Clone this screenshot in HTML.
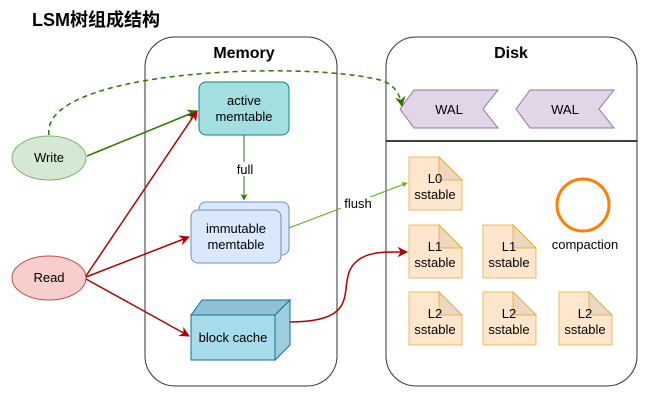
<!DOCTYPE html>
<html><head><meta charset="utf-8"><style>
body{margin:0;background:#fff;}
svg text{font-family:"Liberation Sans","Noto Sans CJK SC",sans-serif;}
</style></head><body>
<svg width="659" height="403" viewBox="0 0 659 403" xmlns="http://www.w3.org/2000/svg">
<defs>
<marker id="ag" viewBox="0 0 10 10" refX="9" refY="5" markerWidth="7" markerHeight="7" orient="auto"><path d="M0,0 L10,5 L0,10 L3,5 z" fill="#2d7600"/></marker>
<marker id="ar" viewBox="0 0 10 10" refX="9" refY="5" markerWidth="7" markerHeight="7" orient="auto"><path d="M0,0 L10,5 L0,10 L3,5 z" fill="#b20000"/></marker>
<marker id="ag2" viewBox="0 0 10 10" refX="9" refY="5" markerWidth="6" markerHeight="6" orient="auto"><path d="M0,0 L10,5 L0,10 L3,5 z" fill="#60a917"/></marker>
</defs>
<text x="32" y="26" font-size="18" font-weight="bold" fill="#000">LSM树组成结构</text>
<rect x="145" y="37" width="192" height="349" rx="30" fill="#fff" stroke="#333" stroke-width="1"/>
<text x="244" y="58" font-size="16" font-weight="bold" text-anchor="middle">Memory</text>
<rect x="386" y="37" width="251" height="349" rx="30" fill="#fff" stroke="#333" stroke-width="1"/>
<text x="511" y="58" font-size="16" font-weight="bold" text-anchor="middle">Disk</text>
<line x1="386" y1="141" x2="637" y2="141" stroke="#000" stroke-width="1.5"/>
<path d="M400,109 L414,90 L498,90 L483,109 L498,128 L414,128 z" fill="#e1d5e7" stroke="#9673a6"/>
<text x="449" y="114" font-size="13" text-anchor="middle">WAL</text>
<path d="M516,109 L530,90 L614,90 L599,109 L614,128 L530,128 z" fill="#e1d5e7" stroke="#9673a6"/>
<text x="565" y="114" font-size="13" text-anchor="middle">WAL</text>
<ellipse cx="49" cy="158" rx="37" ry="22" fill="#d5e8d4" stroke="#82b366"/>
<text x="49" y="162" font-size="13" text-anchor="middle">Write</text>
<ellipse cx="49" cy="278" rx="37" ry="22" fill="#f8cecc" stroke="#b85450"/>
<text x="49" y="282" font-size="13" text-anchor="middle">Read</text>
<rect x="199" y="82" width="90" height="53" rx="7" fill="#a3dfe1" stroke="#0e8088"/>
<text x="244" y="105" font-size="13" text-anchor="middle">active</text>
<text x="244" y="121" font-size="13" text-anchor="middle">memtable</text>
<rect x="199" y="202" width="90" height="53" rx="7" fill="#dae8fc" stroke="#6c8ebf"/>
<rect x="191" y="210" width="90" height="53" rx="7" fill="#dae8fc" stroke="#6c8ebf"/>
<text x="236" y="233" font-size="13" text-anchor="middle">immutable</text>
<text x="236" y="249" font-size="13" text-anchor="middle">memtable</text>
<path d="M191,315 L202,300 L290,300 L275,315 z" fill="#8fc0d3" stroke="#10739e"/>
<path d="M275,315 L290,300 L290,345 L275,360 z" fill="#9dcfe0" stroke="#10739e"/>
<rect x="191" y="315" width="84" height="45" fill="#a6dbea" stroke="#10739e"/>
<text x="233" y="342" font-size="13" text-anchor="middle">block cache</text>
<g font-size="13" text-anchor="middle">
<g transform="translate(409,157)"><path d="M0,0 L30,0 L53,23 L53,53 L0,53 z" fill="#ffe6cc" stroke="#d79b00" stroke-opacity="0.6"/><path d="M30,0 L30,23 L53,23 z" fill="#eed7c0" stroke="#d79b00" stroke-opacity="0.6"/><text x="26" y="26">L0</text><text x="26" y="42">sstable</text></g>
<g transform="translate(409,225)"><path d="M0,0 L30,0 L53,23 L53,53 L0,53 z" fill="#ffe6cc" stroke="#d79b00" stroke-opacity="0.6"/><path d="M30,0 L30,23 L53,23 z" fill="#eed7c0" stroke="#d79b00" stroke-opacity="0.6"/><text x="26" y="26">L1</text><text x="26" y="42">sstable</text></g>
<g transform="translate(483,225)"><path d="M0,0 L30,0 L53,23 L53,53 L0,53 z" fill="#ffe6cc" stroke="#d79b00" stroke-opacity="0.6"/><path d="M30,0 L30,23 L53,23 z" fill="#eed7c0" stroke="#d79b00" stroke-opacity="0.6"/><text x="26" y="26">L1</text><text x="26" y="42">sstable</text></g>
<g transform="translate(409,292)"><path d="M0,0 L30,0 L53,23 L53,53 L0,53 z" fill="#ffe6cc" stroke="#d79b00" stroke-opacity="0.6"/><path d="M30,0 L30,23 L53,23 z" fill="#eed7c0" stroke="#d79b00" stroke-opacity="0.6"/><text x="26" y="26">L2</text><text x="26" y="42">sstable</text></g>
<g transform="translate(483,292)"><path d="M0,0 L30,0 L53,23 L53,53 L0,53 z" fill="#ffe6cc" stroke="#d79b00" stroke-opacity="0.6"/><path d="M30,0 L30,23 L53,23 z" fill="#eed7c0" stroke="#d79b00" stroke-opacity="0.6"/><text x="26" y="26">L2</text><text x="26" y="42">sstable</text></g>
<g transform="translate(559,292)"><path d="M0,0 L30,0 L53,23 L53,53 L0,53 z" fill="#ffe6cc" stroke="#d79b00" stroke-opacity="0.6"/><path d="M30,0 L30,23 L53,23 z" fill="#eed7c0" stroke="#d79b00" stroke-opacity="0.6"/><text x="26" y="26">L2</text><text x="26" y="42">sstable</text></g>
</g>
<circle cx="583" cy="205" r="26" fill="none" stroke="#ff8000" stroke-width="3"/>
<text x="585" y="249" font-size="13" text-anchor="middle">compaction</text>
<path d="M49,135 C40,70 300,60 380,80 C395,84 400,95 402,106" fill="none" stroke="#2d7600" stroke-width="1.5" stroke-dasharray="5,4" marker-end="url(#ag)"/>
<line x1="87" y1="156" x2="197" y2="111" stroke="#2d7600" stroke-width="1.5" marker-end="url(#ag)"/>
<line x1="244" y1="135" x2="244" y2="200" stroke="#2d7600" stroke-width="1" marker-end="url(#ag)"/>
<rect x="234" y="162" width="22" height="14" fill="#fff"/>
<text x="245" y="174" font-size="13" text-anchor="middle">full</text>
<line x1="289" y1="228" x2="407" y2="183" stroke="#60a917" stroke-width="1" marker-end="url(#ag2)"/>
<rect x="341" y="197" width="34" height="14" fill="#fff"/>
<text x="358" y="208" font-size="13" text-anchor="middle">flush</text>
<line x1="86" y1="276" x2="197" y2="111" stroke="#b20000" stroke-width="1.5" marker-end="url(#ar)"/>
<line x1="86" y1="277" x2="189" y2="237" stroke="#b20000" stroke-width="1.5" marker-end="url(#ar)"/>
<line x1="86" y1="279" x2="189" y2="336" stroke="#b20000" stroke-width="1.5" marker-end="url(#ar)"/>
<path d="M290,322 C360,322 340,290 350,270 C360,250 385,252 407,252" fill="none" stroke="#b20000" stroke-width="1.5" marker-end="url(#ar)"/>
</svg>
</body></html>
